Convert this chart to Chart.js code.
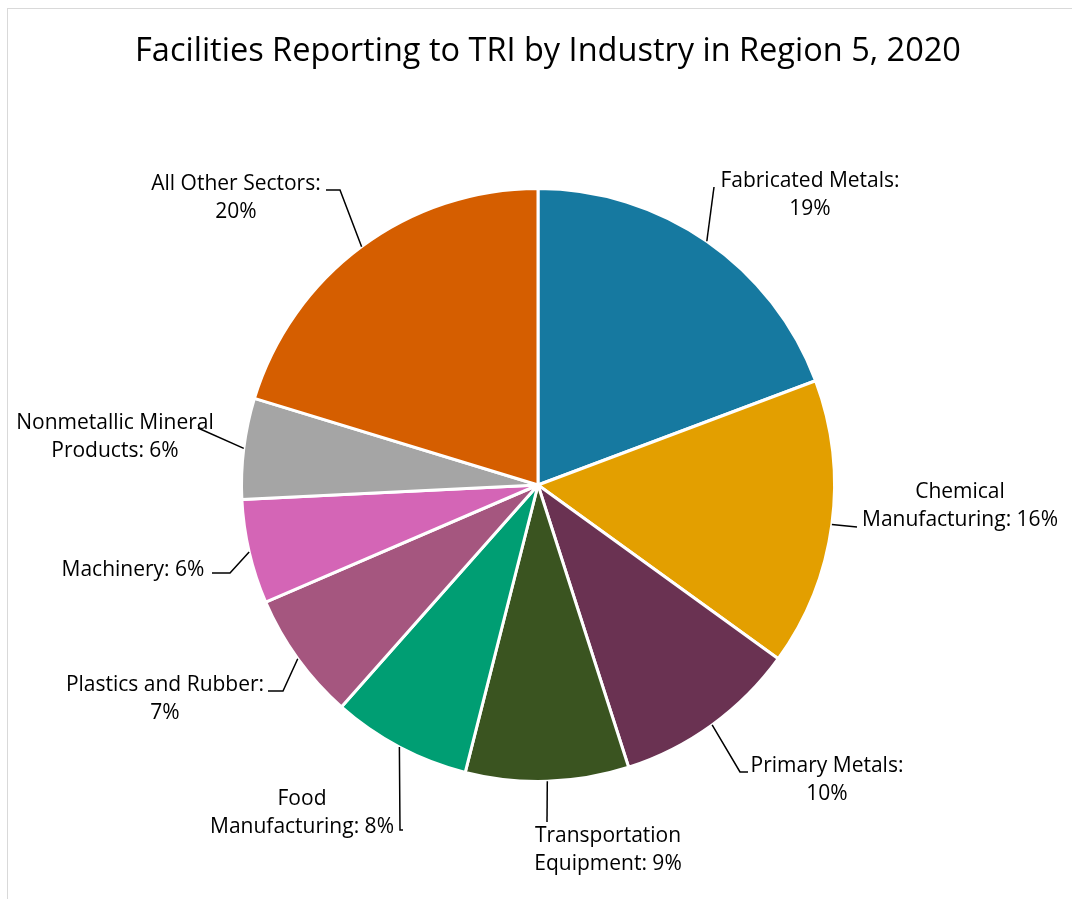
<!DOCTYPE html>
<html>
<head>
<meta charset="utf-8">
<script src="https://cdn.jsdelivr.net/npm/chart.js@4"></script>
<style>
html,body{margin:0;padding:0;background:#fff;}
#wrap{position:relative;width:1072px;height:899px;overflow:hidden;}
#frame{position:absolute;left:7px;top:8px;width:1200px;height:1000px;border:1px solid #d9d9d9;box-sizing:border-box;}
canvas{position:absolute;left:0;top:0;}
</style>
</head>
<body>
<div id="wrap"><div id="frame"></div><canvas id="c" width="1072" height="899"></canvas></div>
<script>
const chartTitle = 'Facilities Reporting to TRI by Industry in Region 5, 2020';
const categories = ['Fabricated Metals', 'Chemical Manufacturing', 'Primary Metals', 'Transportation Equipment', 'Food Manufacturing', 'Plastics and Rubber', 'Machinery', 'Nonmetallic Mineral Products', 'All Other Sectors'];
const values = [19.3, 15.7, 10.1, 8.9, 7.6, 7.0, 5.7, 5.5, 20.3];
const labelLines = [
  ['Fabricated Metals:', '19%'],
  ['Chemical', 'Manufacturing: 16%'],
  ['Primary Metals:', '10%'],
  ['Transportation', 'Equipment: 9%'],
  ['Food', 'Manufacturing: 8%'],
  ['Plastics and Rubber:', '7%'],
  ['Machinery: 6%'],
  ['Nonmetallic Mineral', 'Products: 6%'],
  ['All Other Sectors:', '20%']
];
const colors = ['#1679A0', '#E39F00', '#6A3252', '#3A5420', '#009E73', '#A5567F', '#D465B6', '#A5A5A5', '#D55E00'];

// label layout: text centre (relative to pie centre) and leader path points (relative to pie centre)
const labelLayout = [
  {tx: 272, ty: -290, leader: [[176, -298]]},
  {tx: 422, ty: 21, leader: [[319, 42]]},
  {tx: 289, ty: 295, leader: [[202, 287], [210, 287]]},
  {tx: 70, ty: 365, leader: [[9, 337]]},
  {tx: -236, ty: 328, leader: [[-138, 345], [-135, 345]]},
  {tx: -373, ty: 214, leader: [[-255, 206], [-270, 206]]},
  {tx: -405, ty: 85, leader: [[-308, 88], [-326, 88]]},
  {tx: -423, ty: -48, leader: [[-340, -57]]},
  {tx: -302, ty: -287, leader: [[-198, -295], [-212, -295]]}
];

const FONT = '"Open Sans", Lato, "Liberation Sans", sans-serif';

const labelPlugin = {
  id: 'labels',
  afterDraw(chart) {
    const ctx = chart.ctx;
    ctx.save();
    ctx.fillStyle = '#000';
    ctx.textAlign = 'center';
    ctx.textBaseline = 'middle';
    ctx.font = '32.5px ' + FONT;
    ctx.fillText(chartTitle, 548, 52);
    const meta = chart.getDatasetMeta(0);
    ctx.font = '21px ' + FONT;
    meta.data.forEach((arc, i) => {
      const cx = arc.x, cy = arc.y, r = arc.outerRadius;
      const mid = (arc.startAngle + arc.endAngle) / 2;
      const sx = cx + Math.cos(mid) * r, sy = cy + Math.sin(mid) * r;
      const L = labelLayout[i];
      ctx.strokeStyle = '#000';
      ctx.lineWidth = 1.5;
      ctx.beginPath();
      ctx.moveTo(sx, sy);
      L.leader.forEach(p => ctx.lineTo(cx + p[0], cy + p[1]));
      ctx.stroke();
      const lines = labelLines[i];
      const lh = 28;
      const y0 = cy + L.ty - (lines.length - 1) * lh / 2;
      lines.forEach((t, k) => ctx.fillText(t, cx + L.tx, y0 + k * lh));
    });
    ctx.restore();
  }
};

new Chart(document.getElementById('c'), {
  type: 'pie',
  data: {
    labels: categories,
    datasets: [{
      data: values,
      backgroundColor: colors,
      borderColor: '#ffffff',
      borderWidth: 3
    }]
  },
  options: {
    responsive: false,
    animation: false,
    layout: {padding: {left: 240, right: 236, top: 187, bottom: 116}},
    plugins: {legend: {display: false}, tooltip: {enabled: false}, title: {display: false}}
  },
  plugins: [labelPlugin]
});
</script>
</body>
</html>
